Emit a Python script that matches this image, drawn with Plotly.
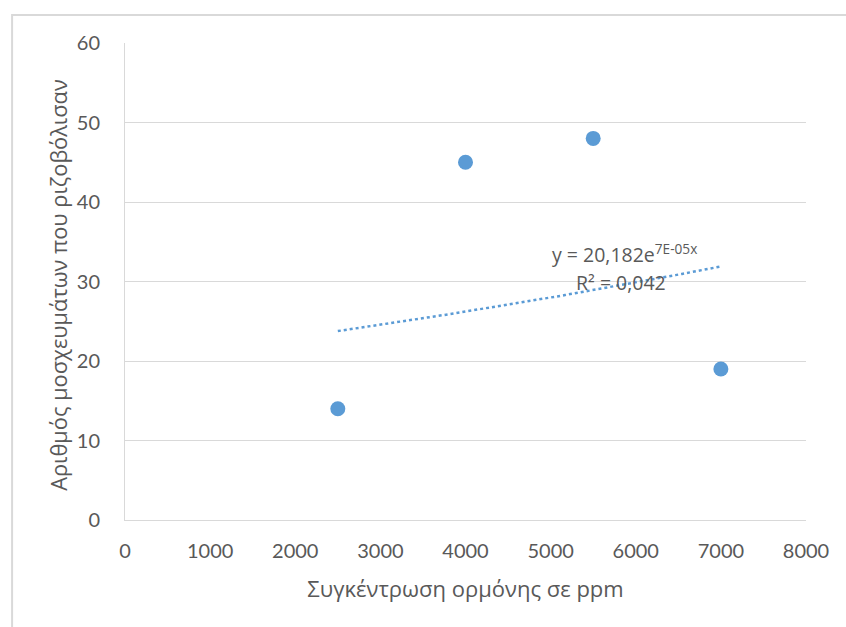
import numpy as np
import plotly.graph_objects as go

# Data
concentration_ppm = [2500, 4000, 5500, 7000]
rooted_cuttings = [14, 45, 48, 19]
x_tick_values = [0, 1000, 2000, 3000, 4000, 5000, 6000, 7000, 8000]
y_tick_values = [0, 10, 20, 30, 40, 50, 60]
x_title = "Συγκέντρωση ορμόνης σε ppm"
y_title = "Αριθμός μοσχευμάτων που ριζοβόλισαν"

# Exponential trendline fitted from the data (as Excel does)
xs = np.array(concentration_ppm, dtype=float)
ys = np.array(rooted_cuttings, dtype=float)
b, ln_a = np.polyfit(xs, np.log(ys), 1)
a = np.exp(ln_a)
trend_x = np.linspace(xs.min(), xs.max(), 60)
trend_y = a * np.exp(b * trend_x)
pred = a * np.exp(b * xs)
ly = np.log(ys)
lp = np.log(pred)
r2 = 1 - np.sum((ly - lp) ** 2) / np.sum((ly - ly.mean()) ** 2)

BLUE = "#5b9bd5"
TXT = "#595959"
GRID = "#d9d9d9"
TICK_FONT = "Lato"
TITLE_FONT = "Open Sans"

fig = go.Figure()
fig.add_trace(go.Scatter(
    x=trend_x, y=trend_y, mode="lines",
    line=dict(color=BLUE, width=2.5, dash="dot"),
    hoverinfo="skip", showlegend=False,
))
fig.add_trace(go.Scatter(
    x=concentration_ppm, y=rooted_cuttings, mode="markers",
    marker=dict(color=BLUE, size=15, line=dict(width=0)),
    showlegend=False,
))

eq_text = "y = " + f"{a:.3f}".replace(".", ",") + "e<sup>7E-05x</sup>"
r2_text = "R² = " + f"{r2:.3f}".replace(".", ",")
fig.add_annotation(x=5870, y=33.5, xref="x", yref="y", text=eq_text,
                   showarrow=False, font=dict(family=TITLE_FONT, size=19.5, color=TXT))
fig.add_annotation(x=5830, y=29.9, xref="x", yref="y", text=r2_text,
                   showarrow=False, font=dict(family=TITLE_FONT, size=19.5, color=TXT))

pw, ph = 681.5, 477.5
# Y-axis title placed as rotated annotation for exact positioning
fig.add_annotation(x=(59 - 125) / pw, y=(520.5 - 286) / ph, xref="paper", yref="paper",
                   text=y_title, textangle=-90, showarrow=False,
                   xanchor="center", yanchor="middle",
                   font=dict(family=TITLE_FONT, size=21.8, color=TXT))

# Outer chart frame (partially cropped in the reference)
fig.add_shape(type="rect", xref="paper", yref="paper",
              x0=(12 - 125) / pw, x1=(856 - 125) / pw,
              y0=(520.5 - 640) / ph, y1=(520.5 - 15) / ph,
              line=dict(color=GRID, width=2), fillcolor="rgba(0,0,0,0)", layer="below")

fig.update_layout(
    width=846, height=627,
    margin=dict(l=125, r=39.5, t=43, b=106.5),
    paper_bgcolor="white", plot_bgcolor="white",
    font=dict(family=TICK_FONT, color=TXT, size=20),
    xaxis=dict(
        range=[0, 8000], tickvals=x_tick_values,
        showgrid=False, zeroline=False, showline=True, linecolor=GRID, linewidth=1,
        ticks="", tickfont=dict(family=TICK_FONT, size=20, color=TXT), ticklabelstandoff=13,
        title=dict(text=x_title, font=dict(family=TITLE_FONT, size=22, color=TXT), standoff=20),
    ),
    yaxis=dict(
        range=[0, 60], tickvals=y_tick_values,
        showgrid=True, gridcolor=GRID, gridwidth=1,
        zeroline=False, showline=True, linecolor=GRID, linewidth=1,
        ticks="", tickfont=dict(family=TICK_FONT, size=20, color=TXT), ticklabelstandoff=20,
    ),
)

fig.write_html("out.html")
